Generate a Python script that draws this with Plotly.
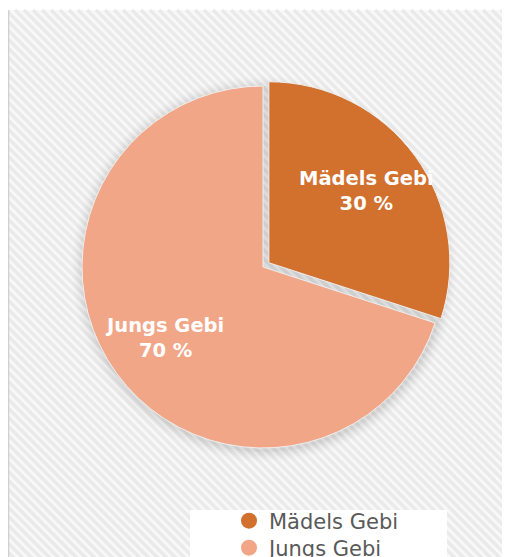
import math
import plotly.graph_objects as go

labels = ["Mädels Gebi", "Jungs Gebi"]
values = [30, 70]
colors = ["#D2702E", "#F1A688"]
pulls = [0.04, 0.0]

# page body has an 8px margin
OFF = 8
W, H = 494, 549

def px(x):
    return (x - OFF) / W

def py(y):
    return 1 - (y - OFF) / H

# pie geometry in target pixels
CX, CY, R = 263, 267, 181
half = R * (1 + max(pulls))
dom_x = [px(CX - half), px(CX + half)]
dom_y = [py(CY + half), py(CY - half)]

fig = go.Figure()

shapes = []
x0, y0, x1, y1 = 8, 10, 520, 570
shapes.append(dict(type="rect", xref="paper", yref="paper", x0=px(x0), x1=px(x1), y0=py(y1), y1=py(y0),
                   fillcolor="#F8F8F8", line=dict(width=0), layer="below"))
period = 9
k = -(y1 - y0)
while k < (x1 - x0):
    if k >= 0:
        sx, sy = x0 + k, y0
    else:
        sx, sy = x0, y0 - k
    L = min(x1 - sx, y1 - sy)
    ex, ey = sx + L, sy + L
    shapes.append(dict(type="line", xref="paper", yref="paper", x0=px(sx), y0=py(sy), x1=px(ex), y1=py(ey),
                       line=dict(color="#EAEAEA", width=3.5), layer="below"))
    k += period
shapes.append(dict(type="line", xref="paper", yref="paper", x0=px(x0 + 0.5), x1=px(x0 + 0.5), y0=py(y1), y1=py(y0),
                   line=dict(color="#D0D0D0", width=1.5), layer="below"))
# soft shadow around the pie
for i, a in enumerate([0.03, 0.025, 0.02, 0.015, 0.012, 0.008]):
    rr = R + 2 + 2 * i
    shapes.append(dict(type="circle", xref="paper", yref="paper",
                       x0=px(CX + 1 - rr), x1=px(CX + 1 + rr), y0=py(CY + 2 + rr), y1=py(CY + 2 - rr),
                       fillcolor="rgba(0,0,0,%.3f)" % a, line=dict(width=0), layer="below"))
# legend white box
shapes.append(dict(type="rect", xref="paper", yref="paper", x0=px(190), x1=px(447), y0=py(570), y1=py(510),
                   fillcolor="white", line=dict(width=0), layer="below"))

fig.add_trace(go.Pie(
    labels=labels, values=values, sort=False, direction="clockwise", rotation=0,
    marker=dict(colors=colors, line=dict(color="#EFEFEF", width=1)),
    pull=pulls, textinfo="none",
    domain=dict(x=dom_x, y=dom_y),
    showlegend=False, hoverinfo="label+percent",
))

annotations = []
total = sum(values)
cum = 0
for lab, v, p in zip(labels, values, pulls):
    mid = (cum + v / 2) / total * 2 * math.pi
    cum += v
    r = R * (0.67 + p)
    tx = CX + r * math.sin(mid)
    ty = CY - r * math.cos(mid)
    annotations.append(dict(x=px(tx), y=py(ty), xref="paper", yref="paper", showarrow=False,
                            xanchor="center", yanchor="middle",
                            text="<b>%s<br>%d %%</b>" % (lab, v), align="center",
                            font=dict(family="DejaVu Sans", size=19.5, color="white")))

legend_names = ["legend", "legend2"]
legend_rows = [521, 548]
for lab, col, lg in zip(labels, colors, legend_names):
    fig.add_trace(go.Scatter(x=[None], y=[None], mode="markers", name=lab, legend=lg,
                             marker=dict(color=col, size=20, symbol="circle")))

leg_common = dict(xanchor="left", yanchor="middle", bgcolor="rgba(0,0,0,0)",
                  font=dict(family="DejaVu Sans", size=21, color="#595959"), itemsizing="trace")

fig.update_layout(
    width=W, height=H, margin=dict(l=0, r=0, t=0, b=0, autoexpand=False),
    paper_bgcolor="white", plot_bgcolor="rgba(0,0,0,0)",
    xaxis=dict(visible=False), yaxis=dict(visible=False),
    shapes=shapes, annotations=annotations,
    legend=dict(x=px(229), y=py(legend_rows[0]), **leg_common),
    legend2=dict(x=px(229), y=py(legend_rows[1]), **leg_common),
)

fig.write_html("out.html")
